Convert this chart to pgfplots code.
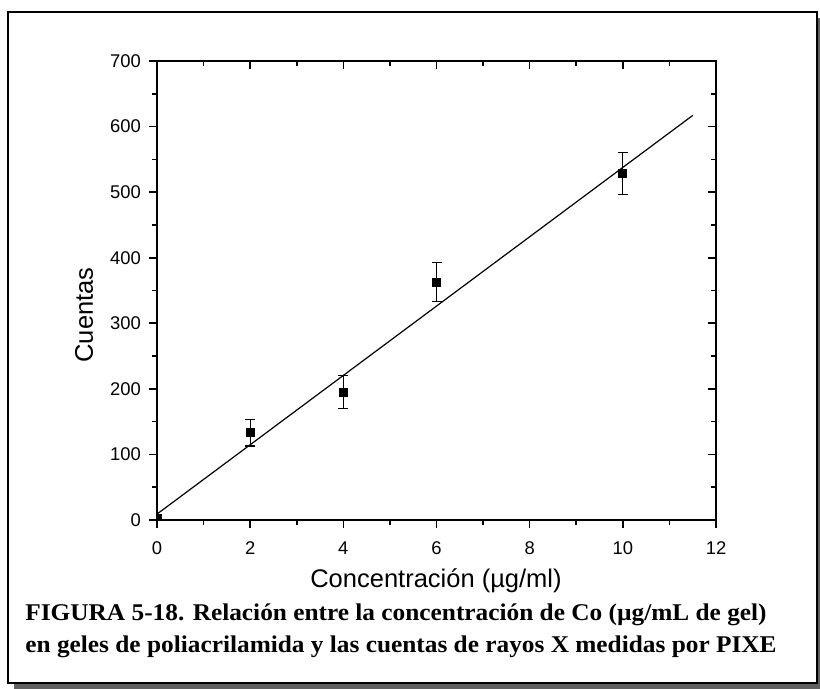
\documentclass[border=0pt]{standalone}
\usepackage{pgfplots}
\pgfplotsset{compat=1.18}
\usepackage{fontspec}
\setmainfont{Liberation Serif}
\newfontfamily\arial{Liberation Sans}

% 1 px of the reference = 0.5pt, y downward -> negative
\begin{document}
\begin{tikzpicture}
  \path[use as bounding box] (0pt,0pt) rectangle (410pt,-344.5pt);
  % frame with shadow
  \fill[gray!75!black] (7pt,-9pt) rectangle (410pt,-344.5pt);
  \draw[line width=1pt,fill=white] (4pt,-6pt) rectangle (408.5pt,-341.5pt);

  \begin{axis}[
    at={(78.5pt,-260pt)}, anchor=south west,
    width=279.5pt, height=229.5pt, scale only axis,
    xmin=0, xmax=12, ymin=0, ymax=700,
    xtick={0,2,...,12}, ytick={0,100,...,700},
    minor x tick num=1, minor y tick num=1,
    xtick pos=bottom, ytick pos=left,
    tick align=outside,
    major tick length=4pt, minor tick length=2.5pt,
    axis line style={line width=0.9pt},
    every tick/.style={black,line width=0.8pt},
    /pgf/number format/assume math mode=true,
    tick label style={font=\arial\fontsize{9.2}{11}\selectfont},
    xticklabel style={yshift=-3.5pt},
    yticklabel style={xshift=-0.5pt},
    clip marker paths=true,
  ]
    % linear fit
    \addplot[black, line width=0.6pt, no markers] coordinates {(0,9) (11.5,617)};
    % measured counts with error bars
    \addplot[black, only marks, mark=square*, mark size=2pt,
      error bars/.cd, y dir=both, y explicit,
      error mark=|, error mark options={mark size=2.5pt, line width=0.6pt},
      error bar style={line width=0.6pt}]
      coordinates {
        (0,2) +- (0,0)
        (2,133) +- (0,20)
        (4,195) +- (0,25)
        (6,363) +- (0,30)
        (10,528) +- (0,32)
      };
  \end{axis}
  % mirrored ticks on top and right (pointing inward)
  \begin{axis}[
    at={(78.5pt,-260pt)}, anchor=south west,
    width=279.5pt, height=229.5pt, scale only axis,
    xmin=0, xmax=12, ymin=0, ymax=700,
    xtick={0,2,...,12}, ytick={0,100,...,700},
    minor x tick num=1, minor y tick num=1,
    xtick pos=top, ytick pos=right,
    tick align=inside,
    major tick length=4pt, minor tick length=2.5pt,
    axis line style={line width=0.9pt},
    every tick/.style={black,line width=0.8pt},
    xticklabels={}, yticklabels={},
  ]
  \end{axis}

  % axis labels
  \node[anchor=center, inner sep=0pt, font=\arial\fontsize{12.75}{15}\selectfont] at (218pt,-290.5pt)
    {Concentración (µg/ml)};
  \node[anchor=center, inner sep=0pt, rotate=90, font=\arial\fontsize{12.75}{15}\selectfont] at (42pt,-157.5pt)
    {Cuentas};

  % caption
  \node[anchor=base west, inner sep=0pt] at (12.5pt,-310.5pt)
    {\scalebox{1.055}[1]{\bfseries\fontsize{12}{14}\selectfont FIGURA 5-18. Relación entre la concentración de Co (µg/mL de gel)}};
  \node[anchor=base west, inner sep=0pt] at (12.5pt,-326.5pt)
    {\scalebox{1.055}[1]{\bfseries\fontsize{12}{14}\selectfont en geles de poliacrilamida y las cuentas de rayos X medidas por PIXE}};
\end{tikzpicture}
\end{document}
